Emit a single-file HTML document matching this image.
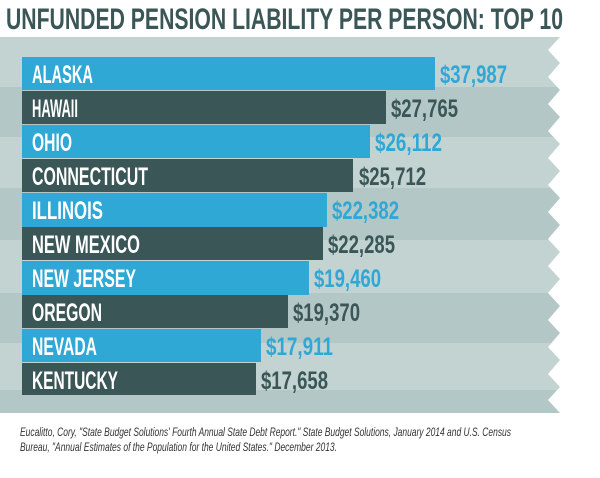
<!DOCTYPE html>
<html><head><meta charset="utf-8"><style>
html,body{margin:0;padding:0;background:#fff;}
svg{display:block;}
.t{font-family:"Liberation Sans Narrow","Liberation Sans",sans-serif;font-weight:bold;}
</style></head><body>
<svg width="600" height="478" viewBox="0 0 600 478" xmlns="http://www.w3.org/2000/svg">
<text class="t" x="6" y="29" font-size="30" fill="#3b5657" textLength="557" lengthAdjust="spacingAndGlyphs">UNFUNDED PENSION LIABILITY PER PERSON: TOP 10</text>
<defs><clipPath id="c"><polygon points="0,37 560,37 548,50 560,63 548,77 560,90 548,104 560,117 548,131 560,144 548,158 560,171 548,185 560,198 548,212 560,225 548,239 560,252 548,266 560,279 548,293 560,306 548,320 560,333 548,347 560,360 548,374 560,387 548,400 560,413 0,413"/></clipPath></defs>
<g clip-path="url(#c)">
<rect x="0" y="37" width="600" height="50" fill="#c2d3d2"/>
<rect x="0" y="87" width="600" height="50" fill="#b3c8c6"/>
<rect x="0" y="137" width="600" height="51" fill="#c2d3d2"/>
<rect x="0" y="188" width="600" height="52" fill="#b3c8c6"/>
<rect x="0" y="240" width="600" height="53" fill="#c2d3d2"/>
<rect x="0" y="293" width="600" height="50" fill="#b3c8c6"/>
<rect x="0" y="343" width="600" height="47" fill="#c2d3d2"/>
<rect x="0" y="390" width="600" height="23" fill="#b3c8c6"/>
</g>
<g class="t" font-size="25">
<rect x="22" y="57" width="413" height="33" fill="#2fa8d5"/>
<text x="32" y="83" fill="#fff" textLength="61" lengthAdjust="spacingAndGlyphs">ALASKA</text>
<text x="440" y="83" fill="#2fa8d5" textLength="67" lengthAdjust="spacingAndGlyphs">$37,987</text>
<rect x="22" y="91" width="364" height="33" fill="#3b5657"/>
<text x="32" y="117" fill="#fff" textLength="46" lengthAdjust="spacingAndGlyphs">HAWAII</text>
<text x="391" y="117" fill="#3b5657" textLength="67" lengthAdjust="spacingAndGlyphs">$27,765</text>
<rect x="22" y="125" width="348" height="33" fill="#2fa8d5"/>
<text x="32" y="151" fill="#fff" textLength="40" lengthAdjust="spacingAndGlyphs">OHIO</text>
<text x="375" y="151" fill="#2fa8d5" textLength="67" lengthAdjust="spacingAndGlyphs">$26,112</text>
<rect x="22" y="159" width="331" height="33" fill="#3b5657"/>
<text x="32" y="185" fill="#fff" textLength="116" lengthAdjust="spacingAndGlyphs">CONNECTICUT</text>
<text x="359" y="185" fill="#3b5657" textLength="67" lengthAdjust="spacingAndGlyphs">$25,712</text>
<rect x="22" y="193" width="305" height="34" fill="#2fa8d5"/>
<text x="32" y="219" fill="#fff" textLength="71" lengthAdjust="spacingAndGlyphs">ILLINOIS</text>
<text x="332" y="219" fill="#2fa8d5" textLength="67" lengthAdjust="spacingAndGlyphs">$22,382</text>
<rect x="22" y="227" width="301" height="33" fill="#3b5657"/>
<text x="32" y="253" fill="#fff" textLength="108" lengthAdjust="spacingAndGlyphs">NEW MEXICO</text>
<text x="328" y="253" fill="#3b5657" textLength="67" lengthAdjust="spacingAndGlyphs">$22,285</text>
<rect x="22" y="261" width="287" height="34" fill="#2fa8d5"/>
<text x="32" y="287" fill="#fff" textLength="104" lengthAdjust="spacingAndGlyphs">NEW JERSEY</text>
<text x="314" y="287" fill="#2fa8d5" textLength="67" lengthAdjust="spacingAndGlyphs">$19,460</text>
<rect x="22" y="295" width="266" height="33" fill="#3b5657"/>
<text x="32" y="321" fill="#fff" textLength="70" lengthAdjust="spacingAndGlyphs">OREGON</text>
<text x="293" y="321" fill="#3b5657" textLength="67" lengthAdjust="spacingAndGlyphs">$19,370</text>
<rect x="22" y="329" width="239" height="33" fill="#2fa8d5"/>
<text x="32" y="355" fill="#fff" textLength="65" lengthAdjust="spacingAndGlyphs">NEVADA</text>
<text x="266" y="355" fill="#2fa8d5" textLength="67" lengthAdjust="spacingAndGlyphs">$17,911</text>
<rect x="22" y="363" width="234" height="32" fill="#3b5657"/>
<text x="32" y="389" fill="#fff" textLength="86" lengthAdjust="spacingAndGlyphs">KENTUCKY</text>
<text x="261" y="389" fill="#3b5657" textLength="67" lengthAdjust="spacingAndGlyphs">$17,658</text>
</g>
<g font-family="Liberation Sans Narrow, Liberation Sans, sans-serif" font-style="italic" font-size="12" fill="#333">
<text x="20" y="436" textLength="491" lengthAdjust="spacingAndGlyphs">Eucalitto, Cory, "State Budget Solutions' Fourth Annual State Debt Report." State Budget Solutions, January 2014 and U.S. Census</text>
<text x="20" y="451" textLength="317" lengthAdjust="spacingAndGlyphs">Bureau, "Annual Estimates of the Population for the United States." December 2013.</text>
</g>
</svg>
</body></html>
